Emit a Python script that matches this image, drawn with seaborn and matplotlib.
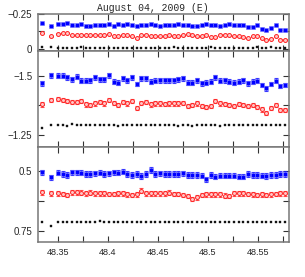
import numpy as np
import seaborn as sns
from matplotlib import pyplot as plt
from matplotlib.ticker import MultipleLocator

# time axis (shared by all panels)
time = [48.334, 48.343, 48.3500, 48.3546, 48.3593, 48.3639, 48.3685, 48.3732,
        48.3778, 48.3824, 48.3871, 48.3917, 48.3963, 48.4010, 48.4056, 48.4102,
        48.4149, 48.4195, 48.4241, 48.4288, 48.4334, 48.4380, 48.4427, 48.4473,
        48.4519, 48.4566, 48.4612, 48.4658, 48.4705, 48.4751, 48.4797, 48.4844,
        48.4890, 48.4936, 48.4983, 48.5029, 48.5075, 48.5122, 48.5168, 48.5214,
        48.5261, 48.5307, 48.5353, 48.5400, 48.5446, 48.5492, 48.5539, 48.5585,
        48.5631, 48.5678, 48.5724, 48.5770]

# top panel
top_blue = [-0.1825, -0.1625, -0.18, -0.18, -0.1875, -0.1675, -0.1675, -0.175,
            -0.1625, -0.1625, -0.1675, -0.1675, -0.1675, -0.175, -0.1625, -0.175,
            -0.1675, -0.175, -0.1675, -0.1625, -0.1675, -0.1675, -0.175, -0.1675,
            -0.1625, -0.1675, -0.1675, -0.1675, -0.175, -0.1675, -0.1675, -0.1625,
            -0.1625, -0.1675, -0.175, -0.1675, -0.1675, -0.1625, -0.1675, -0.175,
            -0.1675, -0.1675, -0.1675, -0.1575, -0.1575, -0.1675, -0.1425, -0.1325,
            -0.15, -0.1675, -0.1375, -0.1375]
top_red = [-0.1125, -0.0875, -0.1075, -0.1125, -0.1125, -0.095, -0.095, -0.1,
           -0.095, -0.095, -0.1, -0.095, -0.095, -0.105, -0.0875, -0.0875,
           -0.1, -0.095, -0.0875, -0.075, -0.095, -0.1, -0.0875, -0.0875,
           -0.0875, -0.0875, -0.095, -0.0875, -0.0875, -0.095, -0.105, -0.095,
           -0.0875, -0.0875, -0.095, -0.0825, -0.08, -0.1, -0.1, -0.095,
           -0.0875, -0.0875, -0.0825, -0.075, -0.0875, -0.0925, -0.075, -0.0625,
           -0.07, -0.0875, -0.0625, -0.0625]
top_black = [-0.012, -0.012, -0.005, -0.006, -0.005, -0.006, -0.005, -0.01,
             -0.005, -0.005, -0.006, -0.005, -0.005, -0.004, -0.005, -0.006,
             -0.005, -0.005, -0.005, -0.006, -0.005, -0.005, -0.005, -0.006,
             -0.005, -0.005, -0.005, -0.008, -0.005, -0.005, -0.004, -0.005,
             -0.005, -0.005, -0.006, -0.01, -0.005, -0.005, -0.005, -0.005,
             -0.006, -0.005, -0.005, -0.005, -0.005, -0.01, -0.005, -0.006,
             -0.008, -0.005, -0.006, -0.004]

# middle panel
mid_blue = [-1.4677, -1.5028, -1.5, -1.5, -1.493, -1.486, -1.4958, -1.479,
            -1.479, -1.4817, -1.493, -1.486, -1.486, -1.5028, -1.4747, -1.4705,
            -1.4888, -1.4817, -1.493, -1.4649, -1.4888, -1.4888, -1.4747, -1.479,
            -1.4817, -1.4817, -1.4817, -1.4817, -1.4846, -1.4888, -1.4705, -1.4705,
            -1.4817, -1.4677, -1.4705, -1.4747, -1.493, -1.479, -1.4817, -1.4747,
            -1.4705, -1.4747, -1.4817, -1.4677, -1.4747, -1.479, -1.4607, -1.4466,
            -1.4649, -1.479, -1.4565, -1.4607]
mid_red = [-1.3792, -1.3975, -1.4017, -1.3975, -1.3947, -1.3904, -1.3904, -1.3947,
           -1.3792, -1.3764, -1.3834, -1.3904, -1.3834, -1.3975, -1.3862, -1.3764,
           -1.3904, -1.3834, -1.3947, -1.3624, -1.3862, -1.3904, -1.3792, -1.3834,
           -1.3834, -1.3806, -1.3834, -1.3834, -1.3834, -1.3862, -1.3722, -1.3764,
           -1.3834, -1.3736, -1.3694, -1.3736, -1.3947, -1.3834, -1.3806, -1.3764,
           -1.3722, -1.3806, -1.3764, -1.3722, -1.3764, -1.3694, -1.3581, -1.3441,
           -1.3624, -1.3764, -1.3553, -1.3553]
mid_black = [-1.2781, -1.2921, -1.2921, -1.2921, -1.2893, -1.2963, -1.2921, -1.2921,
             -1.2921, -1.2921, -1.2921, -1.2921, -1.2921, -1.2921, -1.2921, -1.2893,
             -1.2921, -1.2921, -1.2921, -1.2921, -1.2921, -1.2921, -1.2921, -1.2921,
             -1.2921, -1.2921, -1.2921, -1.2921, -1.2893, -1.2921, -1.2921, -1.2893,
             -1.2921, -1.2921, -1.2921, -1.2921, -1.2921, -1.2893, -1.2921, -1.2921,
             -1.2921, -1.2921, -1.2921, -1.2921, -1.2921, -1.2921, -1.2921, -1.2921,
             -1.2921, -1.2921, -1.2921, -1.2921]

# bottom panel
bot_blue = [0.5056, 0.5264, 0.5069, 0.5125, 0.5167, 0.5056, 0.5056, 0.5069,
            0.5125, 0.5125, 0.5097, 0.5069, 0.5125, 0.5097, 0.5056, 0.5069,
            0.5028, 0.5125, 0.5167, 0.5125, 0.5208, 0.5125, 0.4958, 0.5125,
            0.5097, 0.5125, 0.5125, 0.5125, 0.5125, 0.5097, 0.5167, 0.5167,
            0.5167, 0.5194, 0.5347, 0.5167, 0.5236, 0.5194, 0.5194, 0.5194,
            0.5194, 0.5236, 0.5236, 0.5125, 0.5167, 0.5167, 0.5194, 0.5208,
            0.5167, 0.5167, 0.5125, 0.5125]
bot_red = [0.5889, 0.5931, 0.5931, 0.5958, 0.6, 0.5889, 0.5889, 0.5903,
           0.5931, 0.5903, 0.5931, 0.5931, 0.5931, 0.5958, 0.5958, 0.5931,
           0.5931, 0.5972, 0.6, 0.5972, 0.5819, 0.5931, 0.5931, 0.5931,
           0.5931, 0.5931, 0.5903, 0.5958, 0.5958, 0.6, 0.6042, 0.6167,
           0.6097, 0.6, 0.5972, 0.5972, 0.5972, 0.5972, 0.6028, 0.6042,
           0.5931, 0.5931, 0.5931, 0.5958, 0.5972, 0.6, 0.5972, 0.6,
           0.5972, 0.5958, 0.5931, 0.5931]
bot_black = [0.7139, 0.7278, 0.7111, 0.7139, 0.7139, 0.7139, 0.7139, 0.7139,
             0.7139, 0.7111, 0.7139, 0.7083, 0.7111, 0.7139, 0.7139, 0.7139,
             0.7139, 0.7139, 0.7139, 0.7139, 0.7139, 0.7139, 0.7139, 0.7139,
             0.7139, 0.7139, 0.7139, 0.7139, 0.7139, 0.7139, 0.7111, 0.7139,
             0.7139, 0.7139, 0.7139, 0.7139, 0.7139, 0.7139, 0.7139, 0.7139,
             0.7139, 0.7111, 0.7139, 0.7139, 0.7139, 0.7139, 0.7139, 0.7139,
             0.7139, 0.7139, 0.7139, 0.7139]

# rough error sizes per series (top, middle, bottom)
err_blue = [0.003, 0.010, 0.011]
err_red = [0.003, 0.009, 0.010]

title = 'August 04, 2009 (E)'

sns.set_style('ticks')
plt.rcParams['font.family'] = ['Liberation Sans', 'DejaVu Sans']

fig = plt.figure(figsize=(3.05, 2.77), dpi=100)
fig.patch.set_facecolor('white')

left, width = 0.1246, 0.8229
axes_pos = [(0.8159, 0.1336), (0.4693, 0.3466), (0.1264, 0.3429)]
ylims = [(0.018, -0.25), (-1.199, -1.605), (0.796, 0.400)]
yticks = [[-0.25, 0], [-1.5, -1.25], [0.5, 0.75]]
yticklabels = [['\u22120.25', '0'], ['\u22121.5', '\u22121.25'], ['0.5', '0.75']]

panels = [(top_blue, top_red, top_black),
          (mid_blue, mid_red, mid_black),
          (bot_blue, bot_red, bot_black)]

for i, (bottom, height) in enumerate(axes_pos):
    ax = fig.add_axes([left, bottom, width, height])
    blue, red, black = panels[i]

    ax.errorbar(time, blue, yerr=err_blue[i], fmt='none', ecolor='#2020ff',
                elinewidth=0.8, capsize=1.1, capthick=0.8, alpha=0.85)
    ax.errorbar(time, red, yerr=err_red[i], fmt='none', ecolor='#ff3030',
                elinewidth=0.8, capsize=1.1, capthick=0.8, alpha=0.85)

    sns.scatterplot(x=time, y=blue, ax=ax, marker='s', s=6.5, color='#0000ff',
                    edgecolor='#7070ff', linewidth=0.4, zorder=3)
    sns.scatterplot(x=time, y=red, ax=ax, marker='o', s=8, facecolor='#ffc8c8',
                    edgecolor='#ff2020', linewidth=0.7, zorder=3)
    sns.scatterplot(x=time, y=black, ax=ax, marker='s', s=3.2, color='black',
                    edgecolor='#333333', linewidth=0.3, zorder=3)

    ax.set_xlim(48.33, 48.581)
    ax.set_ylim(*ylims[i])
    ax.set_yticks(yticks[i])
    ax.set_yticklabels(yticklabels[i], fontsize=7)
    ax.yaxis.set_minor_locator(MultipleLocator(0.125))
    ax.xaxis.set_major_locator(MultipleLocator(0.05))
    ax.xaxis.set_minor_locator(MultipleLocator(0.025))
    ax.tick_params(which='both', direction='in', top=True, right=True,
                   length=4.5, width=0.8, color='#333333', labelsize=7, pad=4)
    for sp in ax.spines.values():
        sp.set_color('#777777')
        sp.set_linewidth(1.1)
    ax.set_xlabel('')
    ax.set_ylabel('')
    if i < 2:
        ax.set_xticklabels([])
    else:
        ax.set_xticks([48.35, 48.4, 48.45, 48.5, 48.55])
        ax.set_xticklabels(['48.35', '48.4', '48.45', '48.5', '48.55'], fontsize=6.5)
        ax.xaxis.set_minor_locator(MultipleLocator(0.025))

fig.text(0.5, 0.972, title, ha='center', va='center', fontsize=7,
         family=['Liberation Mono', 'DejaVu Sans Mono'])

fig.savefig('out.png', dpi=100)
